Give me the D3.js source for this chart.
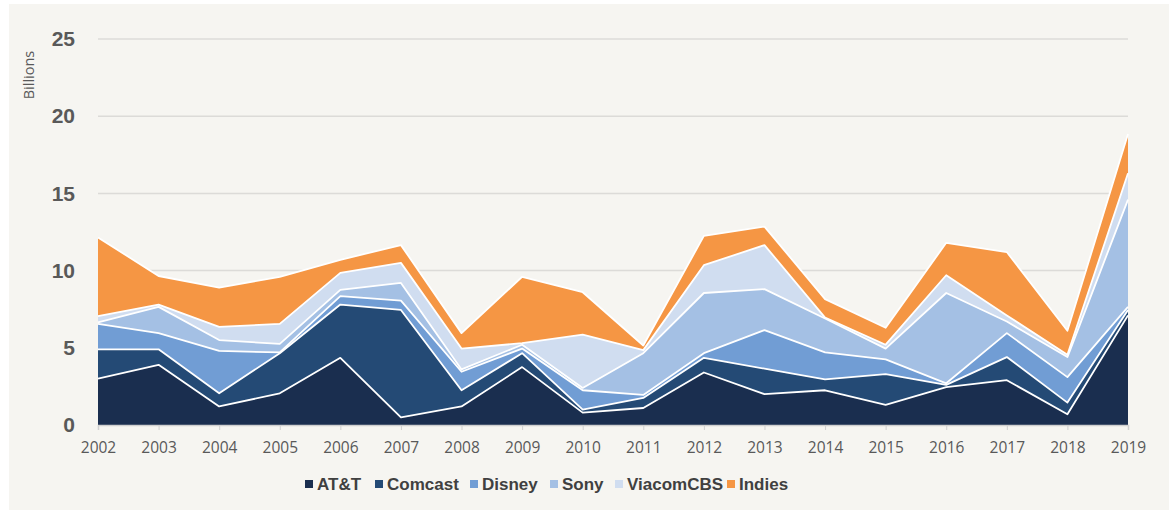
<!DOCTYPE html>
<html>
<head>
<meta charset="utf-8">
<script src="https://cdn.jsdelivr.net/npm/d3@7"></script>
<style>
  body { margin: 0; background: #ffffff; }
  svg { display: block; }
  .ylab { font-family: "Liberation Sans", Arial, sans-serif; font-weight: bold; font-size: 21px; fill: #595959; }
  .xlab { font-family: "Open Sans", "Liberation Sans", sans-serif; font-size: 15.5px; fill: #595959; }
  .legend text { font-family: "Liberation Sans Narrow", "Liberation Sans", sans-serif; font-weight: bold; font-size: 17px; fill: #404040; }
</style>
</head>
<body>
<svg id="chart"></svg>
<script>
var years = [2002,2003,2004,2005,2006,2007,2008,2009,2010,2011,2012,2013,2014,2015,2016,2017,2018,2019]
var companies = ["AT&T","Comcast","Disney","Sony","ViacomCBS","Indies"]
var colors = ["#1a2e4f","#244a75","#719dd4","#a4c0e4","#d0ddf0","#f59644"]

// billions, per company per year
var att     = [3.0, 3.9, 1.2, 2.05, 4.35, 0.5, 1.2, 3.75, 0.8, 1.1, 3.4, 2.0, 2.25, 1.3, 2.45, 2.9, 0.7, 7.1]
var comcast = [1.9, 1.0, 0.85, 2.6, 3.45, 6.95, 1.05, 0.9, 0.2, 0.65, 0.95, 1.65, 0.7, 2.0, 0.15, 1.5, 0.75, 0.35]
var disney  = [1.65, 1.05, 2.75, 0.05, 0.55, 0.6, 1.2, 0.3, 1.25, 0.2, 0.3, 2.5, 1.75, 0.95, 0.1, 1.55, 1.65, 0.2]
var sony    = [0.1, 1.7, 0.7, 0.55, 0.4, 1.15, 0.15, 0.25, 0.15, 2.7, 3.9, 2.65, 2.2, 0.7, 5.85, 0.75, 1.3, 6.95]
var viacom  = [0.4, 0.15, 0.85, 1.3, 1.1, 1.3, 1.35, 0.1, 3.45, 0.2, 1.8, 2.85, 0.05, 0.25, 1.15, 0.4, 0.15, 1.7]
var indies  = [5.1, 1.85, 2.55, 3.05, 0.85, 1.15, 1.0, 4.3, 2.75, 0.3, 1.9, 1.2, 1.2, 1.1, 2.1, 4.1, 1.55, 2.55]
var yTicks = [0,5,10,15,20,25]

var series = [att, comcast, disney, sony, viacom, indies]
var rows = years.map(function(y, i) {
  var r = {year: y}
  companies.forEach(function(c, k) { r[c] = series[k][i] })
  return r
})

var screen = {width:1169, height:510}
var margins = {top:39, left:98, right:41, bottom:85}
var graph = {
  width: screen.width - margins.left - margins.right,
  height: screen.height - margins.top - margins.bottom
}

var svg = d3.select("#chart")
  .attr("width", screen.width)
  .attr("height", screen.height)

svg.append("rect")
  .attr("x", 9).attr("y", 4)
  .attr("width", screen.width - 9).attr("height", screen.height - 4)
  .attr("fill", "#f6f5f1")

var xScale = d3.scaleLinear()
  .domain([years[0], years[years.length-1]])
  .range([0, graph.width])
var yScale = d3.scaleLinear()
  .domain([0, 25])
  .range([graph.height, 0])

var g = svg.append("g")
  .attr("transform", "translate(" + margins.left + "," + margins.top + ")")

// gridlines
g.append("g")
  .selectAll("line")
  .data(yTicks.slice(1))
  .enter()
  .append("line")
  .attr("x1", 0).attr("x2", graph.width)
  .attr("y1", function(d) { return yScale(d) })
  .attr("y2", function(d) { return yScale(d) })
  .attr("stroke", "#dcdbd8")
  .attr("stroke-width", 1.5)

var stack = d3.stack().keys(companies)
var layers = stack(rows)

var area = d3.area()
  .x(function(d) { return xScale(d.data.year) })
  .y0(function(d) { return yScale(d[0]) })
  .y1(function(d) { return yScale(d[1]) })

g.append("g")
  .selectAll("path")
  .data(layers)
  .enter()
  .append("path")
  .attr("d", area)
  .attr("fill", function(d, i) { return colors[i] })

// white edges on top of each layer
var topLine = d3.line()
  .x(function(d) { return xScale(d.data.year) })
  .y(function(d) { return yScale(d[1]) })

g.append("g")
  .selectAll("path")
  .data(layers)
  .enter()
  .append("path")
  .attr("d", topLine)
  .attr("fill", "none")
  .attr("stroke", "#ffffff")
  .attr("stroke-width", 1.8)
  .attr("stroke-linejoin", "round")

// x axis
var xAxis = d3.axisBottom(xScale)
  .tickValues(years)
  .tickFormat(d3.format("d"))
  .tickSize(5)
  .tickPadding(12)

var ax = g.append("g")
  .attr("transform", "translate(0," + graph.height + ")")
  .call(xAxis)
ax.select(".domain").attr("stroke", "#d0d0d0").attr("stroke-width", 1.5)
ax.selectAll(".tick line").attr("stroke", "#d0d0d0")
ax.selectAll(".tick text")
  .attr("class", "xlab")
  .attr("fill", null)
  .attr("font-family", null)
  .attr("font-size", null)

// y axis labels
var yAxis = d3.axisLeft(yScale)
  .tickValues(yTicks)
  .tickSize(0)
  .tickPadding(23)
var ay = g.append("g").call(yAxis)
ay.select(".domain").remove()
ay.selectAll(".tick text")
  .attr("class", "ylab")
  .attr("fill", null)
  .attr("font-family", null)
  .attr("font-size", null)

svg.append("text")
  .text("Billions")
  .attr("transform", "translate(34,75) rotate(-90)")
  .attr("text-anchor", "middle")
  .attr("font-family", "Open Sans, Liberation Sans, sans-serif")
  .attr("font-size", 14.5)
  .attr("fill", "#595959")

// legend
var legendX = [305, 375, 470, 550, 615, 727]
var legend = svg.append("g").classed("legend", true)
var items = legend.selectAll("g")
  .data(companies)
  .enter()
  .append("g")
  .attr("transform", function(d, i) { return "translate(" + legendX[i] + ",484)" })
items.append("rect")
  .attr("x", 0).attr("y", -4)
  .attr("width", 8).attr("height", 8)
  .attr("fill", function(d, i) { return colors[i] })
items.append("text")
  .text(function(d) { return d })
  .attr("x", 12)
  .attr("y", 6)
</script>
</body>
</html>
